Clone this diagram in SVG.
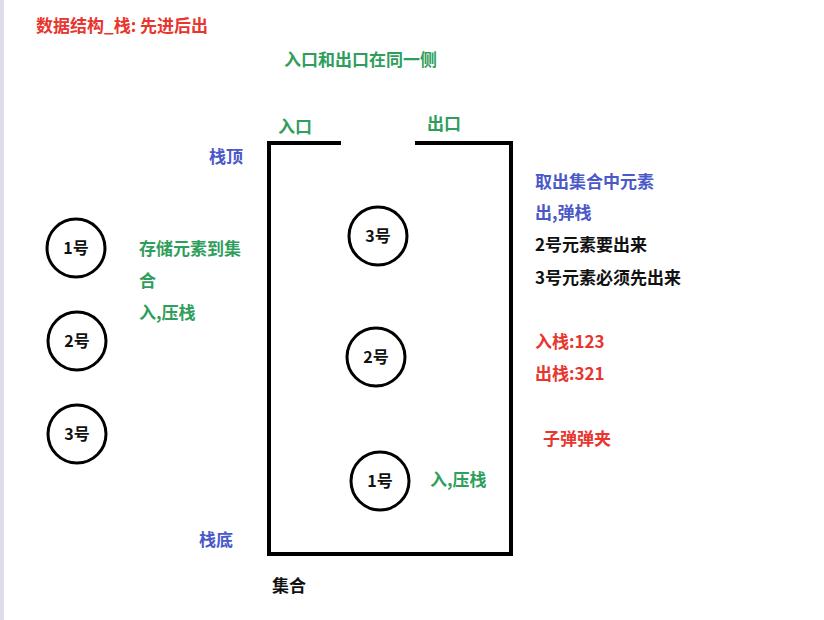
<svg xmlns="http://www.w3.org/2000/svg" width="824" height="620" viewBox="0 0 824 620">
<style>
text{font-family:"Noto Sans CJK SC","Liberation Sans",sans-serif;font-size:17px;font-weight:bold}
.r{fill:#e8352e}.g{fill:#2f9e5c}.b{fill:#4a58c8}.k{fill:#111}
.c{fill:none;stroke:#000;stroke-width:3}
.n{font-size:16px;text-anchor:middle;fill:#111}
.w{fill:none;stroke:#000;stroke-width:4}
</style>
<rect width="824" height="620" fill="#fff"/>
<rect x="0" y="0" width="4" height="620" fill="#dcdcea"/>
<text class="r" x="36" y="32">数据结构_栈: 先进后出</text>
<text class="g" x="284" y="66">入口和出口在同一侧</text>
<text class="g" x="278" y="133">入口</text>
<text class="g" x="427" y="130">出口</text>
<text class="b" x="209" y="163">栈顶</text>
<text class="b" x="199" y="546">栈底</text>
<text class="k" x="272" y="592">集合</text>
<g id="container">
<path class="w" d="M341 143H269V554H511V143H415"/>
</g>
<g id="left1"><circle class="c" cx="76" cy="248" r="29"/><text class="n" x="76" y="254">1号</text></g>
<g id="left2"><circle class="c" cx="77" cy="341" r="29"/><text class="n" x="77" y="347">2号</text></g>
<g id="left3"><circle class="c" cx="77" cy="434" r="29"/><text class="n" x="77" y="440">3号</text></g>
<g id="in3"><circle class="c" cx="378" cy="236" r="29"/><text class="n" x="378" y="242">3号</text></g>
<g id="in2"><circle class="c" cx="376" cy="357" r="29"/><text class="n" x="376" y="363">2号</text></g>
<g id="in1"><circle class="c" cx="380" cy="481" r="29"/><text class="n" x="380" y="487">1号</text></g>
<g id="connectors"></g>
<text class="g" x="139" y="255">存储元素到集</text>
<text class="g" x="139" y="287">合</text>
<text class="g" x="139" y="319">入,压栈</text>
<text class="g" x="430" y="486">入,压栈</text>
<text class="b" x="535" y="188">取出集合中元素</text>
<text class="b" x="535" y="219">出,弹栈</text>
<text class="k" x="535" y="251">2号元素要出来</text>
<text class="k" x="535" y="284">3号元素必须先出来</text>
<text class="r" x="535" y="348">入栈:123</text>
<text class="r" x="535" y="380">出栈:321</text>
<text class="r" x="543" y="445">子弹弹夹</text>
</svg>
